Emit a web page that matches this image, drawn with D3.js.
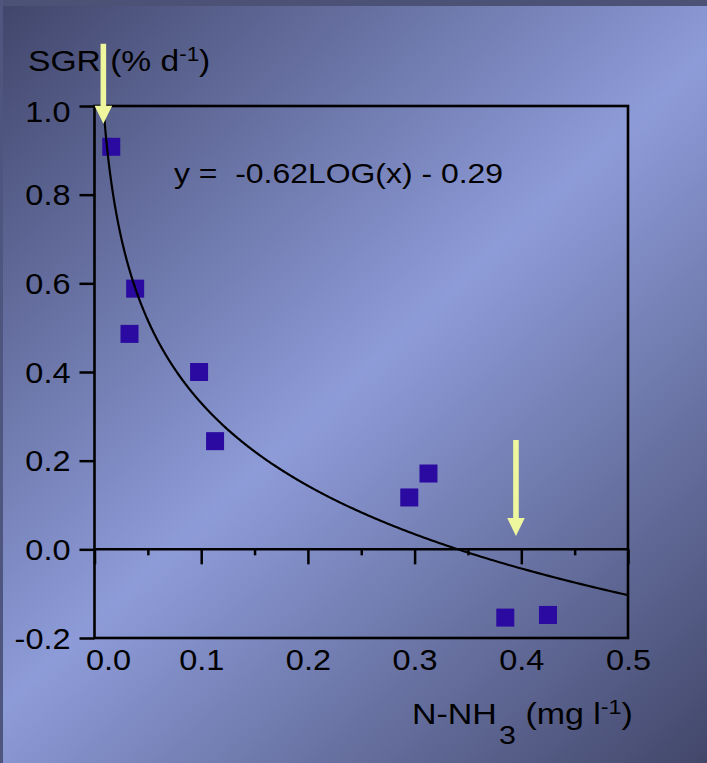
<!DOCTYPE html>
<html><head><meta charset="utf-8">
<script src="https://cdn.jsdelivr.net/npm/d3@7"></script>
<style>html,body{margin:0;padding:0;overflow:hidden;background:#000} svg{display:block}</style>
</head><body>
<svg id="chart" width="707" height="763"></svg>
<script>
// Ammonia concentration (mg/l) and specific growth rate (% per day)
const nh3 = [0.0157, 0.0381, 0.0328, 0.098, 0.113, 0.295, 0.313, 0.385, 0.425];
const sgr = [0.908, 0.588, 0.486, 0.400, 0.244, 0.117, 0.171, -0.154, -0.148];

// Fitted curve: SGR = slope * log10(NH3) + intercept
const fitSlope = -0.62;
const fitIntercept = -0.29;

const xTicks = [0, 0.1, 0.2, 0.3, 0.4, 0.5];
const xMinorTicks = [0.05, 0.15, 0.25, 0.35, 0.45];
const yTicks = [-0.2, 0, 0.2, 0.4, 0.6, 0.8, 1.0];

// Highlighted concentrations (arrow position) and the SGR level each arrow points to
const arrowNh3 = [0.0083, 0.395];
const arrowSgr = [0.96, 0.03];

const W = 707, H = 763;
const FONT = "'Liberation Sans', Arial, Helvetica, sans-serif";
const STRETCH = 1.12; // slide text is set slightly wide
const svg = d3.select("#chart");

// Slide background
const defs = svg.append("defs");
const grad = defs.append("linearGradient").attr("id", "bg")
  .attr("gradientUnits", "userSpaceOnUse")
  .attr("x1", 0).attr("y1", 0).attr("x2", W).attr("y2", H);
grad.append("stop").attr("offset", 0).attr("stop-color", "#40456a");
grad.append("stop").attr("offset", 0.5).attr("stop-color", "#8d9bd8");
grad.append("stop").attr("offset", 1).attr("stop-color", "#42476a");
svg.append("rect").attr("width", W).attr("height", H).attr("fill", "url(#bg)");
svg.append("rect").attr("width", W).attr("height", 6).attr("fill", "#4b5276");
svg.append("rect").attr("width", 3).attr("height", H).attr("fill", "#4e5680");

const x = d3.scaleLinear().domain([0, 0.5]).range([94.5, 628]);
const y = d3.scaleLinear().domain([-0.2, 1.0]).range([638, 106]);

const fmt = d => d.toFixed(1);

// Y axis with outward ticks
const yAxis = svg.append("g").attr("transform", `translate(${x(0)},0)`)
  .call(d3.axisLeft(y).tickValues(yTicks).tickSize(15).tickPadding(9).tickFormat(fmt));
yAxis.select(".domain").remove();
yAxis.selectAll(".tick line").attr("stroke", "#000").attr("stroke-width", 2.5);
yAxis.selectAll(".tick text").attr("fill", "#000").attr("font-family", FONT).attr("font-size", 29)
  .attr("x", 0).attr("transform", `translate(-24,0) scale(${STRETCH},1)`)
  .attr("dy", d => d === 1 ? "0.52em" : "0.35em");

// X ticks hang from the zero line
const xTickAxis = svg.append("g").attr("transform", `translate(0,${y(0)})`)
  .call(d3.axisBottom(x).tickValues(xTicks).tickSize(15).tickFormat(""));
xTickAxis.select(".domain").remove();
xTickAxis.selectAll(".tick line").attr("stroke", "#000").attr("stroke-width", 2.5);
const xMinorAxis = svg.append("g").attr("transform", `translate(0,${y(0)})`)
  .call(d3.axisBottom(x).tickValues(xMinorTicks).tickSize(6).tickFormat(""));
xMinorAxis.select(".domain").remove();
xMinorAxis.selectAll(".tick line").attr("stroke", "#000").attr("stroke-width", 2.5);

// X tick labels below the frame
const xLabelAxis = svg.append("g").attr("transform", `translate(0,${y(-0.2)})`)
  .call(d3.axisBottom(x).tickValues(xTicks).tickSize(0).tickPadding(11).tickFormat(fmt));
xLabelAxis.select(".domain").remove();
xLabelAxis.selectAll(".tick text").attr("fill", "#000").attr("font-family", FONT).attr("font-size", 29)
  .attr("transform", d => `translate(${d === 0 ? 13.5 : 0},0) scale(${STRETCH},1)`);

// Plot frame and zero line
svg.append("rect")
  .attr("x", x(0)).attr("y", y(1)).attr("width", x(0.5) - x(0)).attr("height", y(-0.2) - y(1))
  .attr("fill", "none").attr("stroke", "#000").attr("stroke-width", 2.6);
svg.append("line").attr("x1", x(0)).attr("x2", x(0.5)).attr("y1", y(0)).attr("y2", y(0))
  .attr("stroke", "#000").attr("stroke-width", 2.5);

// Data points
svg.append("g").selectAll("rect").data(nh3).join("rect")
  .attr("x", d => x(d) - 9).attr("y", (d, i) => y(sgr[i]) - 9)
  .attr("width", 18).attr("height", 18).attr("fill", "#2a0aa0");

// Fitted log curve, clipped to the plot area
defs.append("clipPath").attr("id", "plotClip").append("rect")
  .attr("x", x(0)).attr("y", y(1)).attr("width", x(0.5) - x(0)).attr("height", y(-0.2) - y(1));
const curveX = d3.range(0, 401).map(i => Math.pow(10, -2.3 + i * (2.3 + Math.log10(0.5)) / 400));
svg.append("path")
  .datum(curveX)
  .attr("clip-path", "url(#plotClip)")
  .attr("fill", "none").attr("stroke", "#000").attr("stroke-width", 2.2)
  .attr("d", d3.line().x(d => x(d)).y(d => y(fitSlope * Math.log10(d) + fitIntercept)));

// Fit equation
svg.append("text").attr("transform", `translate(174,183) scale(${STRETCH},1)`)
  .attr("font-family", FONT).attr("font-size", 28.5).attr("fill", "#000")
  .attr("xml:space", "preserve").style("white-space", "pre")
  .text("y =  -0.62LOG(x) - 0.29");

// Y axis title
const yTitle = svg.append("text").attr("transform", `translate(28,71) scale(${STRETCH},1)`)
  .attr("font-family", FONT).attr("font-size", 30).attr("fill", "#000");
yTitle.append("tspan").text("SGR (% d");
yTitle.append("tspan").attr("font-size", 20).attr("dy", -10).text("-1");
yTitle.append("tspan").attr("dy", 10).text(")");

// X axis title
const xTitle = svg.append("text").attr("transform", `translate(412,724) scale(1.17,1)`)
  .attr("font-family", FONT).attr("font-size", 29).attr("fill", "#000")
  .style("white-space", "pre");
xTitle.append("tspan").text("N-NH");
xTitle.append("tspan").attr("font-size", 26).attr("dx", 2).attr("dy", 20).text("3");
xTitle.append("tspan").attr("dy", -20).text(" (mg l");
xTitle.append("tspan").attr("font-size", 20).attr("dy", -10).text("-1");
xTitle.append("tspan").attr("dy", 10).text(")");

// Arrows
const arrows = [
  { nh3: arrowNh3[0], sgr: arrowSgr[0], len: 80 },
  { nh3: arrowNh3[1], sgr: arrowSgr[1], len: 96 }
];
svg.append("g").selectAll("path").data(arrows).join("path")
  .attr("fill", "#eef79e")
  .attr("d", d => {
    const cx = x(d.nh3), tip = y(d.sgr), top = tip - d.len, head = 18, hw = 8.8, sw = 2.8;
    return `M${cx - sw},${top}H${cx + sw}V${tip - head}H${cx + hw}L${cx},${tip}L${cx - hw},${tip - head}H${cx - sw}Z`;
  });
</script>
</body></html>
